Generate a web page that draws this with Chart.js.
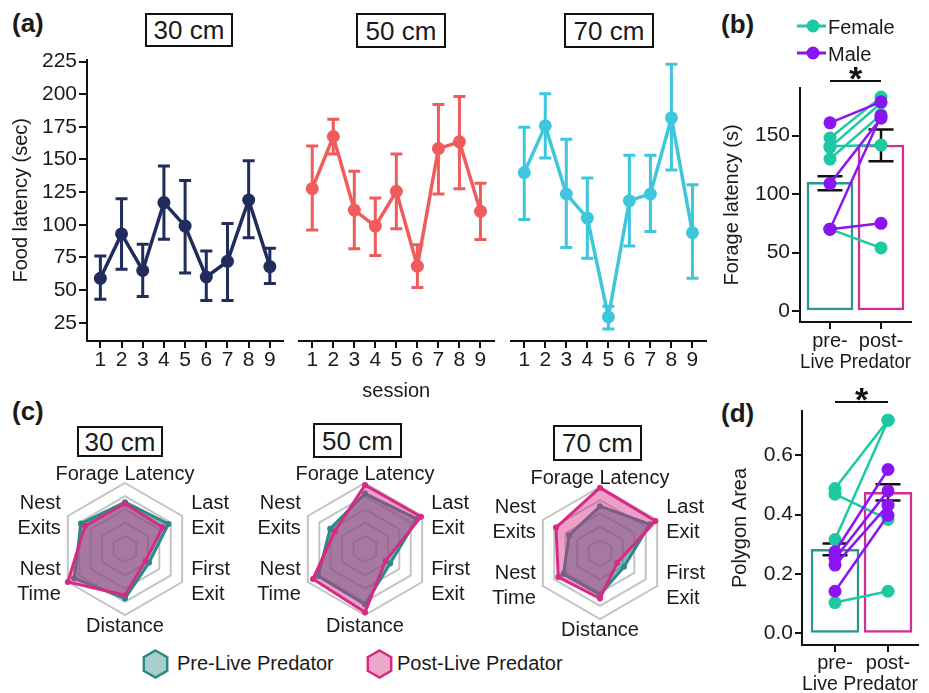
<!DOCTYPE html>
<html><head><meta charset="utf-8">
<script src="https://cdn.jsdelivr.net/npm/chart.js@4.4.1/dist/chart.umd.min.js"></script>
<style>
html,body{margin:0;padding:0;background:#fff;width:929px;height:693px;overflow:hidden;position:relative;font-family:'Liberation Sans',Arial,Helvetica,sans-serif;color:#1a1a1a;}
canvas{position:absolute;}
svg{position:absolute;}
.t{position:absolute;white-space:nowrap;line-height:1;font-size:20px;}
.box{position:absolute;border:2.5px solid #111;box-sizing:border-box;display:flex;align-items:center;justify-content:center;font-size:26px;line-height:1;}
.lt{position:absolute;font-weight:bold;font-size:26px;line-height:1;}
</style></head><body>

<div class="lt" style="left:12px;top:10px">(a)</div>
<div class="lt" style="left:721px;top:11px">(b)</div>
<div class="lt" style="left:12px;top:398px">(c)</div>
<div class="lt" style="left:721px;top:400px">(d)</div>

<div class="box" style="left:145px;top:13px;width:88px;height:34px">30 cm</div>
<div class="box" style="left:356px;top:13px;width:90px;height:35px">50 cm</div>
<div class="box" style="left:564px;top:13px;width:90px;height:35px">70 cm</div>
<div class="box" style="left:77px;top:426px;width:86px;height:31px">30 cm</div>
<div class="box" style="left:313px;top:423px;width:89px;height:35px">50 cm</div>
<div class="box" style="left:553px;top:425px;width:89px;height:36px">70 cm</div>

<canvas id="a1" width="290" height="360" style="left:0;top:45px"></canvas>
<canvas id="a2" width="210" height="360" style="left:290px;top:45px"></canvas>
<canvas id="a3" width="210" height="360" style="left:502px;top:45px"></canvas>
<canvas id="b" width="214" height="320" style="left:715px;top:60px"></canvas>
<canvas id="d" width="214" height="320" style="left:715px;top:380px"></canvas>
<canvas id="r1" width="240" height="180" style="left:0;top:462px"></canvas>
<canvas id="r2" width="240" height="180" style="left:240px;top:462px"></canvas>
<canvas id="r3" width="240" height="180" style="left:475px;top:466px"></canvas>

<!-- legend (b) -->
<svg style="left:795px;top:16px" width="32" height="50">
  <line x1="2" y1="10" x2="31" y2="10" stroke="#1cc9a3" stroke-width="3"/>
  <circle cx="18" cy="10" r="6.5" fill="#1cc9a3"/>
  <line x1="2" y1="37" x2="31" y2="37" stroke="#8b15f2" stroke-width="3"/>
  <circle cx="18" cy="37" r="6.5" fill="#8b15f2"/>
</svg>
<div class="t" style="left:828px;top:17px">Female</div>
<div class="t" style="left:828px;top:44px">Male</div>

<!-- legend (c) -->
<svg style="left:141px;top:649px" width="30" height="30"><polygon points="14.5,1.5 26.2,8.25 26.2,21.75 14.5,28.5 2.8,21.75 2.8,8.25" fill="#a8cfcd" stroke="#2b8a85" stroke-width="2.5"/></svg>
<div class="t" style="left:177px;top:653px">Pre-Live Predator</div>
<svg style="left:365px;top:649px" width="30" height="30"><polygon points="14.5,1.5 26.2,8.25 26.2,21.75 14.5,28.5 2.8,21.75 2.8,8.25" fill="#ebaacc" stroke="#d62a84" stroke-width="2.5"/></svg>
<div class="t" style="left:397px;top:653px">Post-Live Predator</div>

<script>
// ---------- data ----------
const sessions = [1, 2, 3, 4, 5, 6, 7, 8, 9];
const latencyTicks = [25, 50, 75, 100, 125, 150, 175, 200, 225];
const lat30   = [59, 93, 65, 117, 99, 60, 72, 119, 68];
const lat30Lo = [43, 66, 45, 89, 63, 42, 42, 90, 55];
const lat30Hi = [76, 120, 85, 145, 134, 80, 101, 149, 82];
const lat50   = [125, 164, 109, 97, 123, 67, 155, 160, 108];
const lat50Lo = [94, 151, 80, 75, 95, 51, 121, 125, 87];
const lat50Hi = [157, 177, 138, 118, 151, 83, 188, 194, 129];
const lat70   = [137, 172, 121, 103, 29, 116, 121, 178, 92];
const lat70Lo = [102, 148, 81, 73, 20, 82, 93, 139, 58];
const lat70Hi = [171, 196, 162, 133, 37, 150, 150, 218, 128];

const groups = ['pre-', 'post-'];
const groupX = [1, 2];
const forageTicks = [0, 50, 100, 150];
const forageMean = [110, 142];
const forageLo = [103.4, 128.2];
const forageHi = [115.4, 155.3];
const forageFemalePre  = [148, 140, 130, 141, 70];
const forageFemalePost = [183, 178, 168, 142, 54];
const forageMalePre  = [161, 109, 70, 70];
const forageMalePost = [179, 165, 167, 75];

const areaTicks = [0, 0.2, 0.4, 0.6];
const areaMean = [0.283, 0.475];
const areaLo = [0.263, 0.448];
const areaHi = [0.303, 0.502];
const areaFemalePre  = [0.316, 0.488, 0.469, 0.104];
const areaFemalePost = [0.718, 0.718, 0.384, 0.142];
const areaMalePre  = [0.275, 0.252, 0.230, 0.142];
const areaMalePost = [0.552, 0.480, 0.432, 0.398];

const radarAxes = [['Forage Latency'], ['Last', 'Exit'], ['First', 'Exit'], ['Distance'], ['Nest', 'Time'], ['Nest', 'Exits']];
const radarPre30  = [0.71, 0.76, 0.42, 0.75, 0.89, 0.77];
const radarPost30 = [0.69, 0.66, 0.36, 0.70, 1.00, 0.70];
const radarPre50  = [0.84, 0.91, 0.44, 0.84, 0.82, 0.61];
const radarPost50 = [0.97, 0.98, 0.36, 0.96, 0.91, 0.53];
const radarPre70  = [0.71, 0.87, 0.42, 0.63, 0.64, 0.54];
const radarPost70 = [0.99, 0.97, 0.30, 0.69, 0.73, 0.77];

// ---------- styling ----------
const FONT = "'Liberation Sans', Arial, Helvetica, sans-serif";
Chart.defaults.font.family = FONT;
Chart.defaults.color = '#1a1a1a';
Chart.defaults.animation = false;
Chart.defaults.responsive = false;
Chart.defaults.plugins.legend.display = false;
Chart.defaults.plugins.tooltip.enabled = false;

const NAVY = '#1f2c5c', RED = '#f05b5b', CYAN = '#3ec6dd';
const FEMALE = '#1cc9a3', MALE = '#8b15f2';
const BAR_PRE = '#2a9790', BAR_POST = '#cf2f92';
const R_PRE = '#2b8a85', R_POST = '#d62a84';
const AXIS = '#111';

const setTicks = vals => s => { s.ticks = vals.map(v => ({ value: v })); };

function errPlugin(sets) {
  function draw(chart, args, when) {
    const ctx = chart.ctx, xs = chart.scales.x, ys = chart.scales.y;
    sets.forEach(s => {
      if (s.index !== args.index || s.when !== when) return;
      ctx.save(); ctx.strokeStyle = s.color; ctx.lineWidth = s.width; ctx.beginPath();
      s.xs.forEach((xv, i) => {
        const px = xs.getPixelForValue(xv), pl = ys.getPixelForValue(s.lo[i]), ph = ys.getPixelForValue(s.hi[i]);
        ctx.moveTo(px, pl); ctx.lineTo(px, ph);
        ctx.moveTo(px - s.cap, pl); ctx.lineTo(px + s.cap, pl);
        ctx.moveTo(px - s.cap, ph); ctx.lineTo(px + s.cap, ph);
      });
      ctx.stroke(); ctx.restore();
    });
  }
  return { id: 'errbars', beforeDatasetDraw: (c, a) => draw(c, a, 'before'), afterDatasetDraw: (c, a) => draw(c, a, 'after') };
}

function bracketPlugin(x1, x2, lift) {
  return { id: 'bracket', afterDraw(chart) {
    const ctx = chart.ctx, xs = chart.scales.x;
    const y = chart.chartArea.top - lift;
    const a = xs.getPixelForValue(x1), b = xs.getPixelForValue(x2);
    ctx.save(); ctx.strokeStyle = AXIS; ctx.lineWidth = 2;
    ctx.beginPath(); ctx.moveTo(a, y); ctx.lineTo(b, y); ctx.stroke();
    ctx.fillStyle = AXIS; ctx.font = 'bold 34px ' + FONT; ctx.textAlign = 'center'; ctx.textBaseline = 'middle';
    ctx.fillText('*', (a + b) / 2, y);
    ctx.restore();
  }};
}

function sessionChart(id, vals, lo, hi, color, cfg) {
  const pts = sessions.map((s, i) => ({ x: s, y: vals[i] }));
  new Chart(document.getElementById(id), {
    type: 'line',
    data: { datasets: [{ data: pts, borderColor: color, backgroundColor: color, borderWidth: 3.5, pointRadius: 6.5, pointBorderWidth: 0, tension: 0 }] },
    options: {
      layout: { padding: cfg.pad },
      scales: {
        x: { type: 'linear', min: 0.37, max: 9.62, offset: false,
             afterBuildTicks: setTicks(sessions),
             ticks: { font: { size: 21 }, padding: 0, autoSkip: false, maxRotation: 0 },
             grid: { drawOnChartArea: false, offset: false, tickLength: 7, tickColor: AXIS, lineWidth: 2 },
             border: { color: AXIS, width: 2 },
             title: { display: !!cfg.xTitle, text: cfg.xTitle || '', font: { size: 20 }, padding: { top: 0, bottom: 2 } },
             afterFit: s => { s.height = 64; } },
        y: { display: cfg.showY, min: 11, max: 226.5,
             afterBuildTicks: setTicks(latencyTicks),
             ticks: { font: { size: 21 }, padding: 2 },
             grid: { drawOnChartArea: false, tickLength: 8, tickColor: AXIS, lineWidth: 2 },
             border: { color: AXIS, width: 2 },
             title: { display: true, text: 'Food latency (sec)', font: { size: 20 }, padding: { top: 9 } },
             afterFit: s => { s.width = cfg.showY ? 87 : 0; } }
      }
    },
    plugins: [errPlugin([{ index: 0, when: 'before', xs: sessions, lo, hi, color, width: 3, cap: 6 }])]
  });
}

sessionChart('a1', lat30, lat30Lo, lat30Hi, NAVY, { showY: true, pad: { top: 8, right: 7, left: 0, bottom: 0 } });
sessionChart('a2', lat50, lat50Lo, lat50Hi, RED, { showY: false, xTitle: 'session', pad: { top: 8, right: 6, left: 9, bottom: 0 } });
sessionChart('a3', lat70, lat70Lo, lat70Hi, CYAN, { showY: false, pad: { top: 8, right: 5, left: 9, bottom: 0 } });

function pairDs(pre, post, color, order) {
  return pre.map((v, i) => ({ type: 'line', data: [{ x: groupX[0], y: v }, { x: groupX[1], y: post[i] }],
    borderColor: color, backgroundColor: color, borderWidth: 2.5, pointRadius: 6.5, pointBorderWidth: 0, order }));
}

function pairChart(id, cfg) {
  const datasets = [{ type: 'bar', data: groupX.map((x, i) => ({ x, y: cfg.mean[i] })),
    backgroundColor: '#ffffff', borderColor: [BAR_PRE, BAR_POST], borderWidth: 2.5, borderSkipped: false,
    barThickness: cfg.barW, order: 10 }];
  datasets.push(...pairDs(cfg.fPre, cfg.fPost, FEMALE, 2));
  datasets.push(...pairDs(cfg.mPre, cfg.mPost, MALE, 1));
  new Chart(document.getElementById(id), {
    type: 'line',
    data: { datasets },
    options: {
      layout: { padding: cfg.pad },
      scales: {
        x: { type: 'linear', min: cfg.xMin, max: cfg.xMax, offset: false,
             afterBuildTicks: setTicks(groupX),
             ticks: { font: { size: 20 }, padding: cfg.xTickPad, autoSkip: false, maxRotation: 0, callback: v => groups[v - 1] },
             grid: { drawOnChartArea: false, offset: false, tickLength: 7, tickColor: AXIS, lineWidth: 2 },
             border: { color: AXIS, width: 2 },
             title: { display: true, text: 'Live Predator', font: { size: 20 }, padding: { top: 0, bottom: cfg.xTitlePad } },
             afterFit: s => { s.height = cfg.xH; } },
        y: { min: cfg.yMin, max: cfg.yMax, beginAtZero: false,
             afterBuildTicks: setTicks(cfg.ticks),
             ticks: { font: { size: 21 }, padding: 2, callback: cfg.fmt },
             grid: { drawOnChartArea: false, tickLength: cfg.yTick, tickColor: AXIS, lineWidth: 2 },
             border: { color: AXIS, width: 2 },
             title: { display: true, text: cfg.yTitle, font: { size: 20 }, padding: { top: cfg.yTitlePad } },
             afterFit: s => { s.width = cfg.yW; } }
      }
    },
    plugins: [errPlugin([{ index: 0, when: 'after', xs: groupX, lo: cfg.lo, hi: cfg.hi, color: AXIS, width: 2.5, cap: 12.5 }]),
              bracketPlugin(groupX[0], groupX[1], cfg.lift)]
  });
}

pairChart('b', { mean: forageMean, lo: forageLo, hi: forageHi, fPre: forageFemalePre, fPost: forageFemalePost,
  mPre: forageMalePre, mPost: forageMalePost, barW: 46, xMin: 0.412, xMax: 2.588, yMin: -9.4, yMax: 190.8, ticks: forageTicks,
  fmt: v => String(v), yTitle: 'Forage latency (s)', yTitlePad: 5, yW: 85, yTick: 8, xH: 58, xTickPad: 0, xTitlePad: 5.5,
  pad: { top: 28, right: 18, left: 0, bottom: 0 }, lift: 7 });

pairChart('d', { mean: areaMean, lo: areaLo, hi: areaHi, fPre: areaFemalePre, fPost: areaFemalePost,
  mPre: areaMalePre, mPost: areaMalePost, barW: 48, xMin: 0.377, xMax: 2.566, yMin: -0.039, yMax: 0.749, ticks: areaTicks,
  fmt: v => v.toFixed(1), yTitle: 'Polygon Area', yTitlePad: 13, yW: 87, yTick: 7, xH: 55, xTickPad: -1, xTitlePad: 3.6,
  pad: { top: 31, right: 11, left: 0, bottom: 0 }, lift: 9 });

const radarLabels = {
  id: 'radarLabels',
  afterDraw(chart) {
    const s = chart.scales.r, ctx = chart.ctx, lh = 25;
    ctx.save(); ctx.fillStyle = '#1a1a1a'; ctx.font = '20px ' + FONT;
    chart.data.labels.forEach((lines, i) => {
      const p = s.getPointPosition(i, s.drawingArea);
      const dx = p.x - s.xCenter, dy = p.y - s.yCenter;
      if (Math.abs(dx) < 1) {
        ctx.textAlign = 'center';
        ctx.textBaseline = dy < 0 ? 'bottom' : 'top';
        ctx.fillText(lines.join(' '), p.x, p.y + (dy < 0 ? 1 : 1));
      } else {
        ctx.textAlign = dx > 0 ? 'left' : 'right';
        ctx.textBaseline = 'middle';
        const x = p.x + (dx > 0 ? 9 : -7);
        lines.forEach((t, k) => ctx.fillText(t, x, p.y + (k - (lines.length - 1) / 2) * lh));
      }
    });
    ctx.restore();
  }
};

function radarChart(id, pre, post) {
  new Chart(document.getElementById(id), {
    type: 'radar',
    data: { labels: radarAxes, datasets: [
      { label: 'Post-Live Predator', data: post, order: 0, borderColor: R_POST, backgroundColor: 'rgba(214,42,132,0.45)',
        borderWidth: 3, pointRadius: 3, pointBackgroundColor: R_POST, pointBorderWidth: 0, fill: true },
      { label: 'Pre-Live Predator', data: pre, order: 1, borderColor: R_PRE, backgroundColor: 'rgba(43,138,133,0.6)',
        borderWidth: 3, pointRadius: 3, pointBackgroundColor: R_PRE, pointBorderWidth: 0, fill: true }
    ]},
    options: {
      layout: { padding: { left: 59, top: 21, right: 49, bottom: 27 } },
      scales: { r: { min: 0, max: 1, ticks: { display: false, stepSize: 0.2 },
        grid: { color: '#c3c3c3', lineWidth: 2 }, angleLines: { display: false }, pointLabels: { display: false } } }
    },
    plugins: [radarLabels]
  });
}

radarChart('r1', radarPre30, radarPost30);
radarChart('r2', radarPre50, radarPost50);
radarChart('r3', radarPre70, radarPost70);
</script>
</body></html>
